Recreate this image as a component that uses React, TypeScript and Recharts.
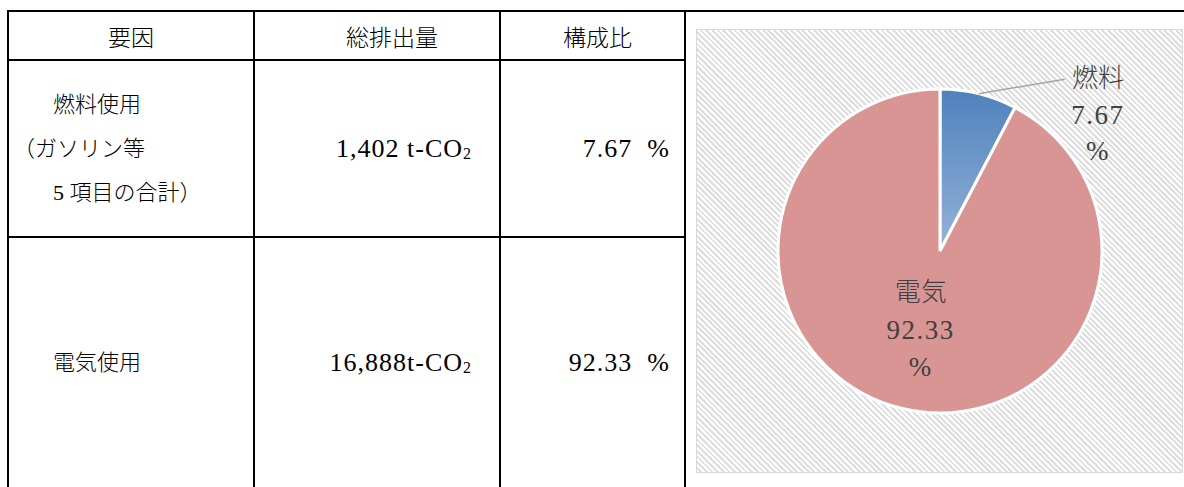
import { PieChart, Pie, Cell } from 'recharts';

// chart data
const categories = ['燃料', '電気'];
const shares = [7.67, 92.33];
const sliceColors = ['url(#fuelGrad)', '#D99594'];

// table text
const headers = ['要因', '総排出量', '構成比'];
const headerShift = [0, 30, 10];
const factorLines = [['燃料使用', '（ガソリン等', ' 5 項目の合計）'], ['電気使用']];
const emissions = ['1,402 t-', '16,888t-'];
const ratios = ['7.67', '92.33'];

const pieData = categories.map((name, i) => ({ name, value: shares[i] }));

const RADIAN = Math.PI / 180;
const serif = '"Liberation Serif", "Noto Sans CJK JP", serif';
const labelColor = '#404040';

const renderLabel = (props: any) => {
    const { cx, cy, midAngle, outerRadius, index, name, value } = props;
    const lines = [name, Number(value).toFixed(2), '%'];
    const sizes = [26, 27, 27];
    const weights = [300, 400, 400];
    let tx: number, ty: number, gap: number;
    let leader = null;
    if (index === 0) {
        // small slice: label outside with leader line
        const sx = cx + outerRadius * Math.cos(-midAngle * RADIAN);
        const sy = cy + outerRadius * Math.sin(-midAngle * RADIAN);
        const ex = cx + outerRadius * 0.77;
        const ey = cy - outerRadius * 1.06;
        tx = cx + outerRadius * 0.975;
        ty = cy - outerRadius * 0.84;
        gap = 36;
        leader = <polyline points={`${sx},${sy} ${ex},${ey}`} stroke="#a6a6a6" strokeWidth={1.5} fill="none" />;
    } else {
        const r = outerRadius * 0.5;
        tx = cx + r * Math.cos(-midAngle * RADIAN);
        ty = cy + r * Math.sin(-midAngle * RADIAN);
        gap = 37;
    }
    return (
        <g>
            {leader}
            {lines.map((t, i) => (
                <text key={i} x={tx} y={ty + (i - 1) * gap} textAnchor="middle" dominantBaseline="central"
                      fill={labelColor} fontSize={sizes[i]} fontWeight={weights[i]} fontFamily={serif}
                      letterSpacing={i === 0 ? 0 : 1.5}>{t}</text>
            ))}
        </g>
    );
};

const cellBase = {
    border: '2px solid #000',
    padding: 0,
    fontSize: 22,
    fontFamily: serif,
    color: '#000',
};

const numCell = {
    ...cellBase,
    textAlign: 'right' as const,
    fontSize: 26,
    letterSpacing: 1,
    whiteSpace: 'pre' as const,
};

const App = () => {
    return (
        <div style={{ position: 'absolute', left: 0, top: 0, width: 1184, height: 487, overflow: 'hidden', background: '#fff' }}>
            <table style={{ position: 'absolute', left: 7, top: 10, borderCollapse: 'collapse', tableLayout: 'fixed', width: 679 }}>
                <colgroup>
                    <col style={{ width: 246 }} />
                    <col style={{ width: 246 }} />
                    <col style={{ width: 185 }} />
                </colgroup>
                <tbody>
                <tr style={{ height: 49 }}>
                    {headers.map((h, i) => (
                        <td key={h} style={{ ...cellBase, textAlign: 'center', fontWeight: 300, fontSize: 23, paddingLeft: headerShift[i] }}>{h}</td>
                    ))}
                </tr>
                {factorLines.map((lines, r) => (
                    <tr key={r} style={{ height: r === 0 ? 177 : 252 }}>
                        <td style={{ ...cellBase, textAlign: 'left', fontWeight: 300 }}>
                            {lines.map((l, i) => (
                                <div key={i} style={{ lineHeight: '44px', marginLeft: l.startsWith('（') ? 4 : 44, whiteSpace: 'pre' }}>
                                    {l.trim()}
                                </div>
                            ))}
                        </td>
                        <td style={{ ...numCell, paddingRight: 28 }}>
                            {emissions[r]}CO<sub style={{ fontSize: 16, verticalAlign: '-2px', letterSpacing: 0 }}>2</sub>
                        </td>
                        <td style={{ ...numCell, paddingRight: 14 }}>
                            {ratios[r]}  %
                        </td>
                    </tr>
                ))}
                </tbody>
            </table>
            <div style={{ position: 'absolute', left: 685, top: 10, width: 499, height: 2, background: '#000' }} />
            <div style={{
                position: 'absolute', left: 696, top: 29, width: 485, height: 442,
                border: '1px solid #d9d9d9',
                background: 'repeating-linear-gradient(45deg, #ffffff 0px, #ffffff 2px, #dedede 2px, #dedede 4px)',
            }}>
                <PieChart width={485} height={442}>
                    <defs>
                        <linearGradient id="fuelGrad" x1="0" y1="0" x2="0" y2="1">
                            <stop offset="0%" stopColor="#4F81BD" />
                            <stop offset="100%" stopColor="#95B3D7" />
                        </linearGradient>
                    </defs>
                    <Pie
                        data={pieData}
                        dataKey="value"
                        nameKey="name"
                        cx={238}
                        cy={216}
                        outerRadius={162}
                        startAngle={90}
                        endAngle={-270}
                        stroke="#ffffff"
                        strokeWidth={3}
                        label={renderLabel}
                        labelLine={false}
                        isAnimationActive={false}
                    >
                        {pieData.map((d, i) => (
                            <Cell key={d.name} fill={sliceColors[i]} />
                        ))}
                    </Pie>
                </PieChart>
            </div>
        </div>
    );
};

export default App;
